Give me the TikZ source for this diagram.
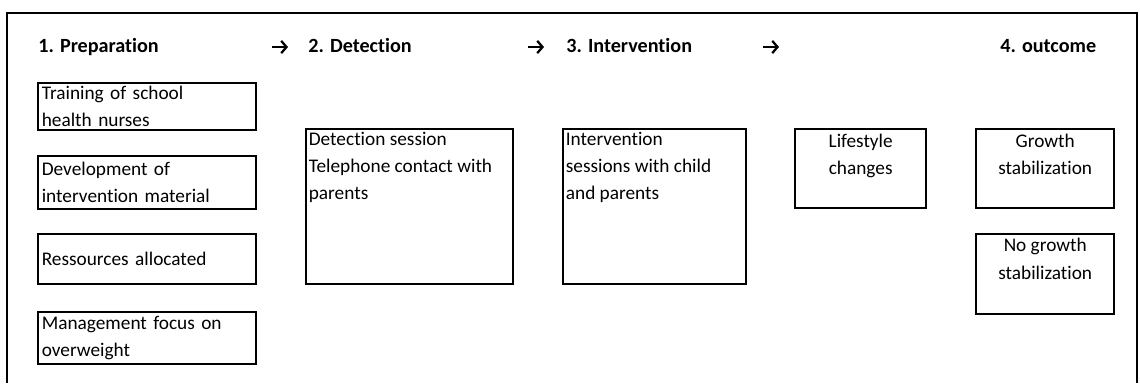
\documentclass[tikz,border=0pt]{standalone}
\usepackage{fontspec}
\setmainfont{Carlito}[Ligatures=NoCommon]
\usepackage{tikz}
\usetikzlibrary{arrows.meta,positioning}
\tikzset{
  mylist/.style = {rectangle, draw, line width=1.2pt, text width=120pt, inner xsep=2.15pt, inner ysep=0.5pt, align=left, anchor=north west},
  mystage/.style = {rectangle, draw, line width=1.2pt, minimum height=88.4pt},
  myout/.style = {rectangle, draw, line width=1.2pt, minimum width=78.7pt, minimum height=45pt},
  myhead/.style = {anchor=base west, inner sep=0pt, font=\bfseries\fontsize{11.5}{13}\selectfont},
  mytop/.style = {anchor=north west, align=left, inner sep=2pt},
  mymid/.style = {anchor=north, align=center, inner sep=3pt},
  myarrow/.style = {-{Straight Barb[length=3pt,width=7pt]}, line width=1.3pt},
  myframe/.style = {line width=0.8pt},
}
\begin{document}
\begin{tikzpicture}[x=0.57pt, y=-0.57pt, every node/.style={font=\fontsize{11}{15.5}\selectfont}]
\useasboundingbox (0,0) rectangle (1140,383);
\draw[myframe] (7,383) -- (7,13) -- (1137,13) -- (1137,383);

% stage titles
\node[myhead] (prephead) at (38,52) {1. Preparation};
\node[myhead] (dethead) at (308,52) {2. Detection};
\node[myhead] (inthead) at (566,52) {3. Intervention};
\node[myhead] (outhead) at (1000,52) {4. outcome};
\coordinate (arr1a) at (272,47);
\coordinate (arr1b) at (288,47);
\coordinate (arr2a) at (528,47);
\coordinate (arr2b) at (544,47);
\coordinate (arr3a) at (763,47);
\coordinate (arr3b) at (779,47);
\draw[myarrow] (arr1a) -- (arr1b);
\draw[myarrow] (arr2a) -- (arr2b);
\draw[myarrow] (arr3a) -- (arr3b);

% preparation
\node[mylist, minimum height=26.8pt] (train) at (37,82) {Training of school\\health nurses};
\node[mylist, minimum height=30.2pt, below=13.6pt of train] (devel) {Development of\\intervention material};
\node[mylist, minimum height=28.5pt, below=13.1pt of devel] (resrc) {Ressources allocated};
\node[mylist, minimum height=29.6pt, below=14.8pt of resrc] (mgmt) {Management focus on\\overweight};

% detection, intervention, outcome
\node[mystage, minimum width=118pt, anchor=north west, label={[mytop]north west:{Detection session\\Telephone contact with\\parents}}] (detect) at (305,128) {};
\node[mystage, minimum width=104.3pt, right=27.3pt of detect.north east, anchor=north west, label={[mytop]north west:{Intervention\\sessions with child\\and parents}}] (interv) {};
\node[myout, minimum width=74.7pt, right=26.8pt of interv.north east, anchor=north west, label={[mymid]north:{Lifestyle\\changes}}] (life) {};
\node[myout, right=27.3pt of life.north east, anchor=north west, label={[mymid]north:{Growth\\stabilization}}] (growth) {};
\node[myout, minimum height=45.6pt, below=13.6pt of growth, label={[mymid]north:{No growth\\stabilization}}] (nogrowth) {};
\end{tikzpicture}
\end{document}
